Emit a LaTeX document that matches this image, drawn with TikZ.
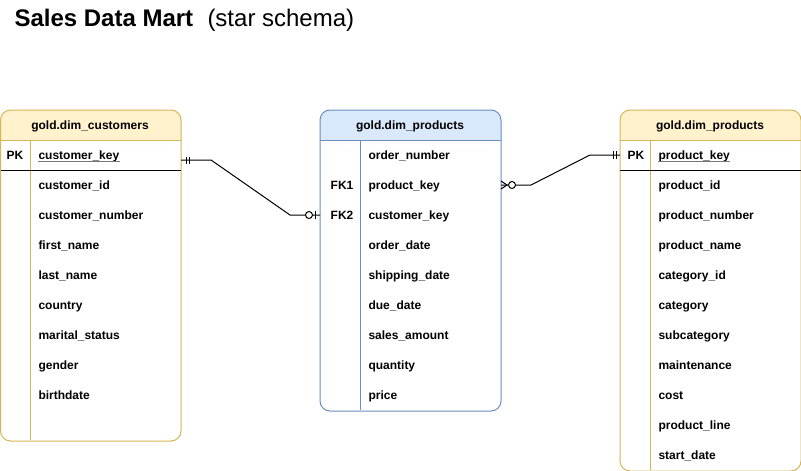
\documentclass[tikz,border=0pt]{standalone}
\usepackage{fontspec}
\setmainfont{Liberation Sans}
\definecolor{yfill}{HTML}{FFF2CC}
\definecolor{ystroke}{HTML}{D6B656}
\definecolor{bfill}{HTML}{DAE8FC}
\definecolor{bstroke}{HTML}{6C8EBF}
\definecolor{ulgray}{HTML}{777777}
\begin{document}
\begin{tikzpicture}[x=1pt,y=-1pt,line width=1pt,
  field/.style={anchor=base west,inner sep=0pt,font=\fontsize{12}{14}\selectfont\bfseries},
  keytxt/.style={anchor=base,inner sep=0pt,font=\fontsize{12}{14}\selectfont\bfseries},
  tblbg/.style={fill=white,draw=none,inner sep=0pt,anchor=north west},
  tblline/.style={rounded corners=10pt},
  conn/.style={draw=black,line width=1pt},
  ulin/.style={draw=ulgray,line width=0.8pt}]
\useasboundingbox (0,0) rectangle (801,471);

% title
\node[anchor=base west,inner sep=0pt,font=\fontsize{24}{28}\selectfont\bfseries] (title) at (14,27) {Sales Data Mart};
\node[anchor=base west,inner sep=0pt,font=\fontsize{24}{28}\selectfont] (subtitle) at (207,27) {(star schema)};

% ---------- left table: gold.dim_customers ----------
\node[tblbg,minimum width=179.5pt,minimum height=330pt] (cust) at (0.5,110) {};
\fill[yfill,tblline] (cust.north west) rectangle ([yshift=-40pt]cust.north east);
\fill[white] ([yshift=-30pt]cust.north west) rectangle ([yshift=-40pt]cust.north east);
\draw[ystroke,tblline] (cust.north west) rectangle (cust.south east);
\draw[ystroke] ([yshift=-30pt]cust.north west) -- ([yshift=-30pt]cust.north east);
\draw[ystroke] (30,140) -- (30,440);
\draw[black] ([yshift=-60pt]cust.north west) -- ([yshift=-60pt]cust.north east);
\node[keytxt] (custh) at (90,129) {gold.dim\_customers};
\node[keytxt] (custpk) at (15,159) {PK};
\node[field] (custk) at (38,159) {customer\_key};
\draw[ulin] ([yshift=-2pt]custk.base west) -- ([yshift=-2pt]custk.base east);
\foreach \t [count=\i] in {customer\_id,customer\_number,first\_name,last\_name,country,marital\_status,gender,birthdate}
  \node[field] (cf\i) at (38,159+30*\i) {\t};

% ---------- middle table ----------
\node[tblbg,minimum width=180pt,minimum height=300pt] (fact) at (320,110) {};
\fill[bfill,tblline] (fact.north west) rectangle ([yshift=-40pt]fact.north east);
\fill[white] ([yshift=-30pt]fact.north west) rectangle ([yshift=-40pt]fact.north east);
\draw[bstroke,tblline] (fact.north west) rectangle (fact.south east);
\draw[bstroke] ([yshift=-30pt]fact.north west) -- ([yshift=-30pt]fact.north east);
\draw[bstroke] (360,140) -- (360,410);
\node[keytxt] (facth) at (410,129) {gold.dim\_products};
\node[keytxt] (fk1) at (342,189) {FK1};
\node[keytxt] (fk2) at (342,219) {FK2};
\foreach \t [count=\i] in {order\_number,product\_key,customer\_key,order\_date,shipping\_date,due\_date,sales\_amount,quantity,price}
  \node[field] (ff\i) at (368,129+30*\i) {\t};

% ---------- right table ----------
\node[tblbg,minimum width=180pt,minimum height=360pt] (prod) at (620,110) {};
\fill[yfill,tblline] (prod.north west) rectangle ([yshift=-40pt]prod.north east);
\fill[white] ([yshift=-30pt]prod.north west) rectangle ([yshift=-40pt]prod.north east);
\draw[ystroke,tblline] (prod.north west) rectangle (prod.south east);
\draw[ystroke] ([yshift=-30pt]prod.north west) -- ([yshift=-30pt]prod.north east);
\draw[ystroke] (650,140) -- (650,470);
\draw[black] ([yshift=-60pt]prod.north west) -- ([yshift=-60pt]prod.north east);
\node[keytxt] (prodh) at (710,129) {gold.dim\_products};
\node[keytxt] (prodpk) at (636,159) {PK};
\node[field] (prodk) at (658,159) {product\_key};
\draw[ulin] ([yshift=-2pt]prodk.base west) -- ([yshift=-2pt]prodk.base east);
\foreach \t [count=\i] in {product\_id,product\_number,product\_name,category\_id,category,subcategory,maintenance,cost,product\_line,start\_date}
  \node[field] (pf\i) at (658,159+30*\i) {\t};

% ---------- connector 1: customers -> fact ----------
\coordinate (c1a) at ([yshift=-50pt]cust.north east);
\coordinate (c1b) at ([yshift=-105pt]fact.north west);
\draw[conn] (c1a) -- ++(30,0) -- ([xshift=-30pt]c1b) -- (c1b);
\draw[conn] ([xshift=5pt]c1a) ++(0,-3.5) -- ++(0,7);
\draw[conn] ([xshift=8pt]c1a) ++(0,-3.5) -- ++(0,7);
\draw[conn] ([xshift=-5pt]c1b) ++(0,-4) -- ++(0,8);
\draw[conn,fill=white] ([xshift=-11pt]c1b) circle (3.5pt);

% ---------- connector 2: fact -> products ----------
\coordinate (c2a) at ([yshift=-75pt]fact.north east);
\coordinate (c2b) at ([yshift=-45pt]prod.north west);
\draw[conn] (c2a) -- ++(30,0) -- ([xshift=-30pt]c2b) -- (c2b);
\draw[conn] (c2a) ++(0,-4) -- ++(6,4) -- ++(-6,4);
\draw[conn,fill=white] ([xshift=11pt]c2a) circle (3.5pt);
\draw[conn] ([xshift=-7pt]c2b) ++(0,-4) -- ++(0,8);
\draw[conn] ([xshift=-4pt]c2b) ++(0,-4) -- ++(0,8);
\end{tikzpicture}
\end{document}
